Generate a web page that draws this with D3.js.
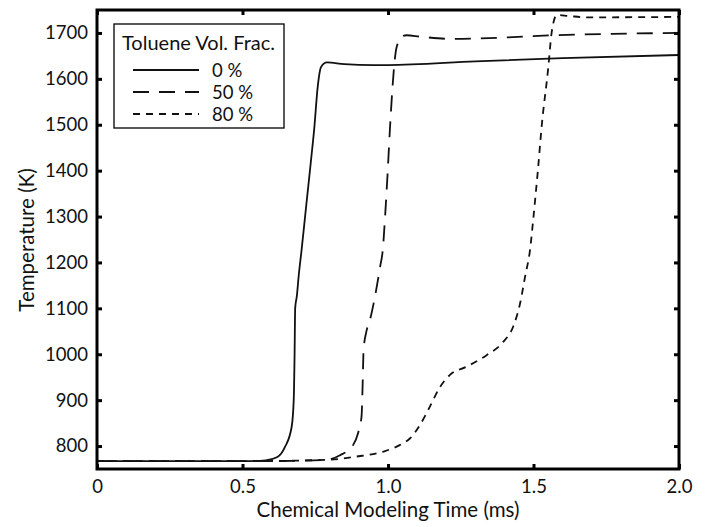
<!DOCTYPE html>
<html>
<head>
<meta charset="utf-8">
<script src="https://cdn.jsdelivr.net/npm/d3@7/dist/d3.min.js"></script>
<style>
  body { margin: 0; background: #fff; }
  svg text { font-family: Lato, "Noto Sans", sans-serif; fill: #111; }
</style>
</head>
<body>
<script>
// time (ms) and temperature (K)
var t0 = [0, 0.3, 0.5, 0.58, 0.62, 0.646, 0.669, 0.676, 0.679, 0.681, 0.687, 0.693, 0.703, 0.72, 0.735, 0.747, 0.758, 0.77, 0.79, 0.85, 0.95, 1.0, 1.3, 1.6, 2.0];
var temp0 = [767, 767, 767, 769, 776, 798, 842, 900, 1000, 1100, 1128, 1170, 1227, 1330, 1420, 1495, 1580, 1626, 1636, 1632, 1630, 1630, 1638, 1645, 1652];

var t50 = [0, 0.5, 0.7, 0.79, 0.835, 0.88, 0.897, 0.909, 0.913, 0.916, 0.927, 0.938, 0.955, 0.973, 0.982, 0.99, 1.0, 1.007, 1.03, 1.05, 1.064, 1.11, 1.22, 1.4, 1.57, 1.77, 2.0];
var temp50 = [767, 767, 768, 770, 780, 802, 828, 864, 937, 1009, 1053, 1075, 1125, 1191, 1227, 1300, 1410, 1495, 1670, 1693, 1695, 1692, 1687, 1690, 1695, 1698, 1700];

var t80 = [0, 0.5, 0.79, 0.89, 0.99, 1.04, 1.076, 1.11, 1.144, 1.179, 1.213, 1.27, 1.339, 1.396, 1.43, 1.454, 1.471, 1.488, 1.5, 1.515, 1.528, 1.551, 1.562, 1.58, 1.62, 1.683, 2.0];
var temp80 = [767, 767, 770, 777, 789, 802, 817, 846, 886, 929, 955, 973, 998, 1027, 1060, 1111, 1169, 1227, 1300, 1400, 1496, 1626, 1699, 1739, 1737, 1734, 1735];

var seriesNames = ['0 %', '50 %', '80 %'];
var xTicks = [0, 0.5, 1.0, 1.5, 2.0];
var yTicks = [800, 900, 1000, 1100, 1200, 1300, 1400, 1500, 1600, 1700];

var dashes = ['none', '16,10', '7,6'];

var W = 711, H = 527;
var margin = {top: 10, right: 32, bottom: 58, left: 97};
var width = W - margin.left - margin.right,
  height = H - margin.top - margin.bottom;

var svg = d3.select('body').append('svg')
  .attr('width', W)
  .attr('height', H)
  .append('g')
  .attr('transform', 'translate(' + margin.left + ',' + margin.top + ')');

var x = d3.scaleLinear().domain([0, 2]).range([0, width]);
var y = d3.scaleLinear().domain([750, 1750]).range([height, 0]);

var xFmt = function (d) { return d === 0 ? '0' : d3.format('.1f')(d); };

var xAxis = svg.append('g')
  .attr('transform', 'translate(0,' + height + ')')
  .call(d3.axisBottom(x).tickValues(xTicks).tickFormat(xFmt).tickSize(-5).tickPadding(11));
var yAxis = svg.append('g')
  .call(d3.axisLeft(y).tickValues(yTicks).tickFormat(d3.format('d')).tickSize(-5).tickPadding(9));
var xTop = svg.append('g')
  .call(d3.axisTop(x).tickValues(xTicks).tickFormat('').tickSize(-5));
var yRight = svg.append('g')
  .attr('transform', 'translate(' + width + ',0)')
  .call(d3.axisRight(y).tickValues(yTicks).tickFormat('').tickSize(-5));

[xAxis, yAxis, xTop, yRight].forEach(function (g) {
  g.select('.domain').remove();
  g.selectAll('.tick line').attr('stroke', '#000').attr('stroke-width', 3);
  g.selectAll('.tick text').style('font-size', '18.5px').attr('fill', '#111');
});

var series = [
  {name: seriesNames[0], t: t0, v: temp0},
  {name: seriesNames[1], t: t50, v: temp50},
  {name: seriesNames[2], t: t80, v: temp80}
];

var line = d3.line()
  .x(function (d) { return x(d[0]); })
  .y(function (d) { return y(d[1]); })
  .curve(d3.curveMonotoneX);

svg.selectAll('.series')
  .data(series)
  .enter()
  .append('path')
  .attr('class', 'series')
  .attr('fill', 'none')
  .attr('stroke', '#111')
  .attr('stroke-width', 1.8)
  .attr('stroke-dasharray', function (d, i) { return dashes[i]; })
  .attr('d', function (d) {
    return line(d.t.map(function (tt, i) { return [tt, d.v[i]]; }));
  });

// frame
svg.append('rect')
  .attr('width', width)
  .attr('height', height)
  .attr('fill', 'none')
  .attr('stroke', '#000')
  .attr('stroke-width', 3);

svg.append('text')
  .attr('x', width / 2)
  .attr('y', height + 48)
  .attr('text-anchor', 'middle')
  .style('font-size', '20.5px')
  .text('Chemical Modeling Time (ms)');

svg.append('text')
  .attr('transform', 'rotate(-90)')
  .attr('x', -230)
  .attr('y', -63)
  .attr('text-anchor', 'middle')
  .style('font-size', '20.5px')
  .text('Temperature (K)');

// legend
var legend = svg.append('g').attr('transform', 'translate(17,14)');
legend.append('rect')
  .attr('width', 170)
  .attr('height', 104)
  .attr('fill', '#fff')
  .attr('stroke', '#000')
  .attr('stroke-width', 1.3);
legend.append('text')
  .attr('x', 8)
  .attr('y', 26)
  .style('font-size', '20px')
  .text('Toluene Vol. Frac.');

var rows = legend.selectAll('.legend-row')
  .data(seriesNames)
  .enter()
  .append('g')
  .attr('class', 'legend-row')
  .attr('transform', function (d, i) { return 'translate(0,' + (46 + i * 22) + ')'; });
rows.append('line')
  .attr('x1', 19).attr('x2', 85)
  .attr('stroke', '#111')
  .attr('stroke-width', 1.8)
  .attr('stroke-dasharray', function (d, i) { return dashes[i]; });
rows.append('text')
  .attr('x', 98)
  .attr('y', 6.5)
  .style('font-size', '18.5px')
  .text(function (d) { return d; });
</script>
</body>
</html>
